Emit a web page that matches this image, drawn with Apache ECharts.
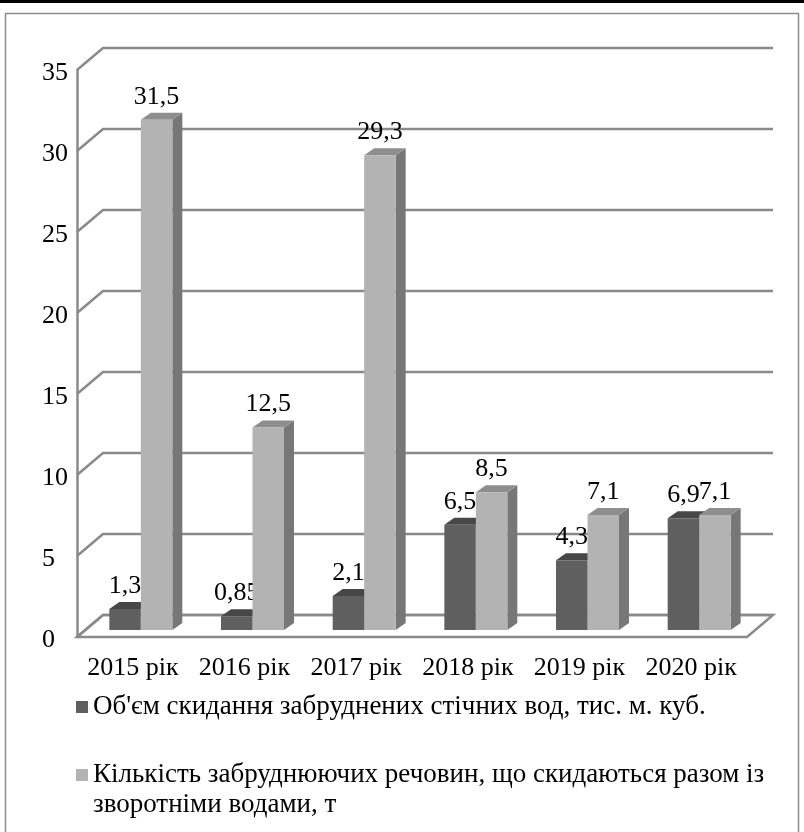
<!DOCTYPE html>
<html>
<head>
<meta charset="utf-8">
<script src="https://cdn.jsdelivr.net/npm/echarts@6/dist/echarts.min.js"></script>
<style>
  html, body { margin: 0; padding: 0; background: #fff; }
  #chart { width: 804px; height: 832px; }
</style>
</head>
<body>
<div id="chart"></div>
<script>
// Categories and values
const categories = ['2015 рік', '2016 рік', '2017 рік', '2018 рік', '2019 рік', '2020 рік'];
const seriesNames = [
  "Об'єм скидання забруднених стічних вод, тис. м. куб.",
  'Кількість забруднюючих речовин, що скидаються разом із зворотніми водами, т'
];
const dischargeVolume = [1.3, 0.85, 2.1, 6.5, 4.3, 6.9];
const pollutantMass = [31.5, 12.5, 29.3, 8.5, 7.1, 7.1];
const yTicks = [0, 5, 10, 15, 20, 25, 30, 35];

// Pseudo-3D geometry (pixels)
const WALL_DX = 26, WALL_DY = -22;   // back wall offset from the front edge
const BAR_DX = 8, BAR_DY = -7;       // bar front plane offset
const DEPTH_DX = 10, DEPTH_DY = -7;  // bar depth
const BAR_RATIO = 0.282;             // bar width as a share of the category band
const GRID_COLOR = '#8a8a8a';
const FONT = "'Liberation Serif', 'Times New Roman', serif";

const palette = [
  { front: '#5f5f5f', top: '#474747', side: '#3e3e3e' },
  { front: '#b3b3b3', top: '#8e8e8e', side: '#777777' }
];

const chart = echarts.init(document.getElementById('chart'), null, { renderer: 'canvas' });

function wallRenderer(params, api) {
  const cs = params.coordSys;
  const v = api.value(1);
  const y = api.coord([0, v])[1];
  const x0 = cs.x, x1 = cs.x + cs.width;
  const children = [];
  if (v === 0) {
    children.push({
      type: 'polygon',
      shape: { points: [[x0, y], [x1, y], [x1 + WALL_DX, y + WALL_DY], [x0 + WALL_DX, y + WALL_DY]] },
      style: { fill: '#ffffff', stroke: GRID_COLOR, lineWidth: 2.5 }
    });
  }
  children.push({
    type: 'polyline',
    shape: { points: [[x0, y], [x0 + WALL_DX, y + WALL_DY], [x1 + WALL_DX, y + WALL_DY]] },
    style: { fill: null, stroke: GRID_COLOR, lineWidth: 2.5 }
  });
  return { type: 'group', children };
}

function barRenderer(side) {
  const c = palette[side];
  return function (params, api) {
    const i = api.value(0);
    const v = api.value(1);
    const top = api.coord([i, v]);
    const base = api.coord([i, 0]);
    const band = api.size([1, 0])[0];
    const w = band * BAR_RATIO;
    const xl = top[0] + BAR_DX - (side === 0 ? w : 0);
    const xr = xl + w;
    const yt = top[1] + BAR_DY;
    const yb = base[1] + BAR_DY;
    return {
      type: 'group',
      children: [
        {
          type: 'polygon',
          shape: { points: [[xr, yt], [xr + DEPTH_DX, yt + DEPTH_DY], [xr + DEPTH_DX, yb + DEPTH_DY], [xr, yb]] },
          style: { fill: c.side }
        },
        {
          type: 'polygon',
          shape: { points: [[xl, yt], [xl + DEPTH_DX, yt + DEPTH_DY], [xr + DEPTH_DX, yt + DEPTH_DY], [xr, yt]] },
          style: { fill: c.top }
        },
        {
          type: 'rect',
          shape: { x: xl, y: yt, width: w, height: yb - yt },
          style: { fill: c.front }
        },
        {
          type: 'text',
          x: (xl + xr) / 2,
          y: yt - 10,
          style: {
            text: String(v).replace('.', ','),
            align: 'center',
            verticalAlign: 'bottom',
            font: '26px ' + FONT,
            fill: '#000'
          }
        }
      ]
    };
  };
}

const axisText = { fontFamily: FONT, fontSize: 26, color: '#000' };
const legendText = { fontFamily: FONT, fontSize: 27, color: '#000', lineHeight: 30 };

chart.setOption({
  animation: false,
  backgroundColor: '#fff',
  grid: { left: 77, right: 57, top: 70, bottom: 195 },
  xAxis: {
    type: 'category',
    data: categories,
    axisLine: { show: false },
    axisTick: { show: false },
    splitLine: { show: false },
    axisLabel: Object.assign({ margin: 18, interval: 0 }, axisText)
  },
  yAxis: {
    type: 'value',
    min: 0,
    max: 35,
    interval: 5,
    axisLine: { show: true, lineStyle: { color: GRID_COLOR, width: 2.5 } },
    axisTick: { show: false },
    splitLine: { show: false },
    axisLabel: Object.assign({
      margin: 35,
      align: 'left',
      formatter: '{v|{value}}',
      rich: { v: { fontFamily: FONT, fontSize: 26, color: '#000', padding: [7, 0, 0, 0] } }
    }, axisText)
  },
  legend: [
    {
      data: [seriesNames[0]],
      left: 76, top: 692, padding: 0,
      icon: 'rect', itemWidth: 12, itemHeight: 12,
      selectedMode: false,
      textStyle: legendText
    },
    {
      // leading blank line keeps the marker level with the first text line
      data: [seriesNames[1]],
      left: 76, top: 730, padding: 0,
      icon: 'rect', itemWidth: 12, itemHeight: 12,
      selectedMode: false,
      formatter: name => '\n' + name.replace(' із ', ' із\n'),
      textStyle: legendText
    }
  ],
  graphic: [
    { type: 'rect', shape: { x: 0, y: 0, width: 804, height: 3 }, style: { fill: '#000' } },
    { type: 'rect', shape: { x: 5.5, y: 13.5, width: 793, height: 830 }, style: { fill: null, stroke: '#8c8c8c', lineWidth: 1.5 } }
  ],
  series: [
    {
      type: 'custom',
      name: 'walls',
      silent: true,
      z: 1,
      renderItem: wallRenderer,
      data: yTicks.map(v => [0, v])
    },
    {
      type: 'custom',
      name: seriesNames[0],
      z: 2,
      itemStyle: { color: palette[0].front },
      renderItem: barRenderer(0),
      data: dischargeVolume.map((v, i) => [i, v])
    },
    {
      type: 'custom',
      name: seriesNames[1],
      z: 3,
      itemStyle: { color: palette[1].front },
      renderItem: barRenderer(1),
      data: pollutantMass.map((v, i) => [i, v])
    }
  ]
});
</script>
</body>
</html>
